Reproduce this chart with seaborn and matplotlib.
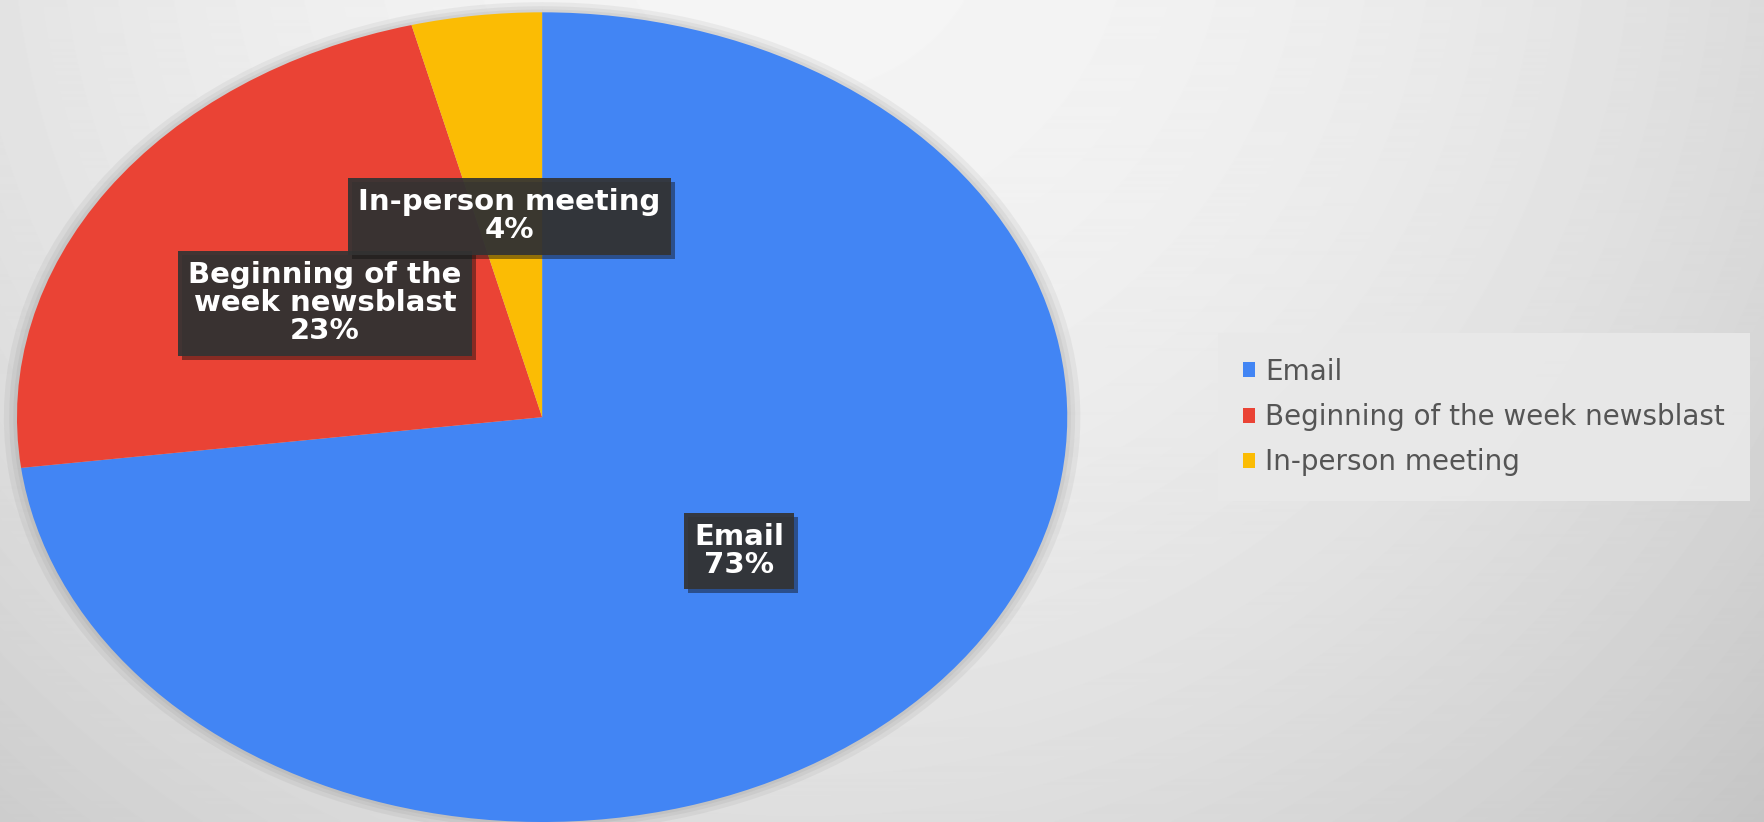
import textwrap
import numpy as np
import matplotlib
matplotlib.use('Agg')
import matplotlib.pyplot as plt
import matplotlib.patheffects as pe
import seaborn as sns

# chart data
channels = ['Email', 'Beginning of the week newsblast', 'In-person meeting']
shares = [73, 23, 4]
colors = ['#4285F4', '#EA4335', '#FBBC04']

sns.set_style('white')
plt.rcParams['font.family'] = ['DejaVu Sans']

fig = plt.figure(figsize=(17.65, 8.22), dpi=100)

# soft grey radial background
bg = fig.add_axes([0, 0, 1, 1], zorder=-10)
xx, yy = np.meshgrid(np.arange(1765), np.arange(822))
d2 = (xx - 800) ** 2 + (yy + 100) ** 2
shade = np.clip(0.961 - 1.07e-7 * d2, 0, 1)
bg.imshow(shade, cmap='gray', vmin=0, vmax=1, aspect='auto', extent=[0, 1, 0, 1], origin='upper')
bg.set_axis_off()

ax = fig.add_axes([0.0007, -0.0148, 0.6129, 1.0146])

# faint halo around the pie
for r in [1.025, 1.015, 1.007]:
    ax.pie(shares, colors=['#555555'] * 3, startangle=90, counterclock=False, radius=r,
           wedgeprops=dict(linewidth=0, alpha=0.07))

names = iter(textwrap.fill(c, 17) for c in channels)
wedges, texts, autotexts = ax.pie(
    shares, colors=colors, startangle=90, counterclock=False,
    autopct=lambda p: f'{next(names)}\n{p:.0f}%', pctdistance=0.5,
    wedgeprops=dict(linewidth=0),
    textprops=dict(color='white', fontsize=21, fontweight='bold', linespacing=1.0),
)
ax.set_aspect('auto')
ax.set_xlim(-1.03, 1.03)
ax.set_ylim(-1.03, 1.03)

for t in autotexts:
    t.set_bbox(dict(boxstyle='square,pad=0.35', fc='#333333', ec='none', alpha=0.92))
    t.get_bbox_patch().set_path_effects([pe.SimplePatchShadow(offset=(3, -3), alpha=0.45), pe.Normal()])

leg = fig.legend(wedges, channels, loc='center left', bbox_to_anchor=(1212 / 1765, 1 - 417 / 822),
                 frameon=True, fontsize=20, handlelength=0.45, handleheight=0.45,
                 handletextpad=0.35, labelspacing=0.62, borderpad=0.6, labelcolor='#555555')
leg.get_frame().set_facecolor('#e9e9e9')
leg.get_frame().set_edgecolor('none')
leg.get_frame().set_alpha(0.9)
leg.get_frame().set_boxstyle('square')

fig.savefig('out.png', dpi=100)
